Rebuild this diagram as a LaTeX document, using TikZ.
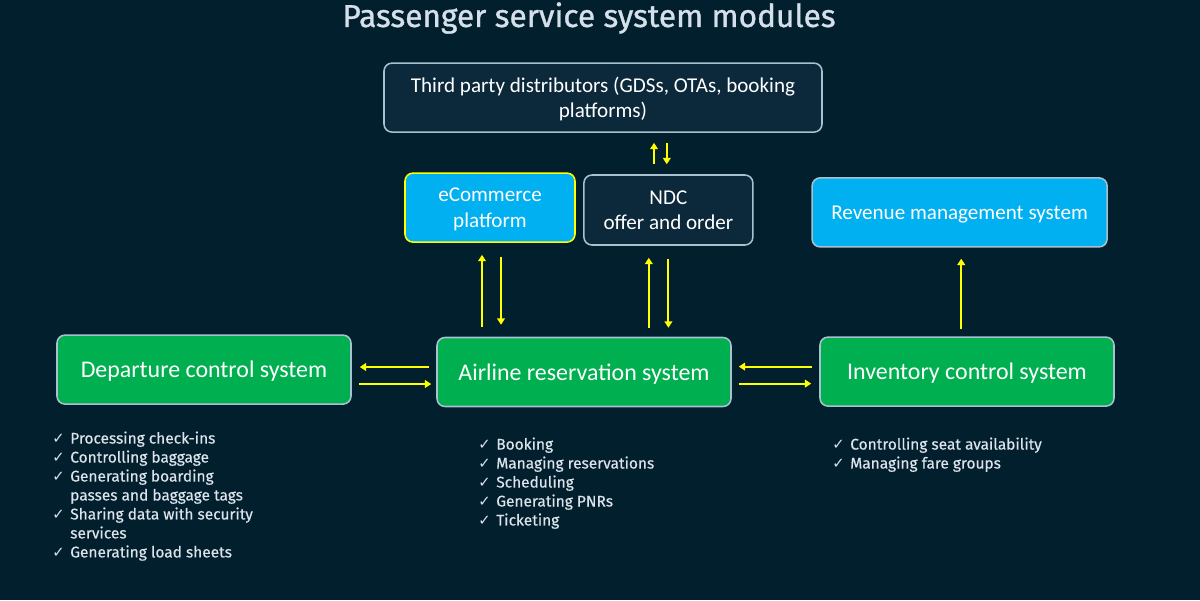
\documentclass[tikz,border=0pt]{standalone}
\usepackage{fontspec}
\setmainfont{Carlito}
\newfontfamily\dinfont[UprightFeatures={FakeBold=0.4}]{Fira Sans}
\newfontfamily\headfont[UprightFeatures={FakeBold=1}]{Fira Sans}
\newfontfamily\tickfont{DejaVu Sans}
\usepackage{tikz}
\usepackage{xcolor}
\usetikzlibrary{arrows.meta}

\definecolor{bgnavy}{HTML}{021F2E}
\definecolor{boxnavy}{HTML}{0C293B}
\definecolor{edgegrey}{HTML}{A9C0CF}
\definecolor{skyblue}{HTML}{00B0F0}
\definecolor{boxgreen}{HTML}{00B050}
\definecolor{arrowyellow}{HTML}{FFFF00}
\definecolor{titlegrey}{HTML}{D5E0EA}
\definecolor{listgrey}{HTML}{DCE3EA}

\newcommand{\chk}{{\tickfont\fontsize{10.5}{10.5}\selectfont\char"2713}}

\begin{document}
\begin{tikzpicture}[
  box/.style={rounded corners=0.2cm, draw=edgegrey, line width=1.1pt, minimum height=1.725cm, align=center, text=white, text depth=0pt, font=\fontsize{15}{18}\selectfont},
  darkbox/.style={box, fill=boxnavy},
  bluebox/.style={box, fill=skyblue},
  greenbox/.style={box, fill=boxgreen, minimum width=7.35cm, font=\fontsize{17}{20}\selectfont},
  flow/.style={draw=arrowyellow, line width=1.4pt, -{Triangle[width=5.5pt,length=4.5pt]}},
  ticks/.style={anchor=north west, inner sep=0pt, text=listgrey, font=\dinfont\fontsize{11}{13.5}\selectfont}
]
\useasboundingbox (0,0) rectangle (30,-15);
\fill[bgnavy] (0,0) rectangle (30,-15);
\node[text=titlegrey, font=\headfont\fontsize{22.5}{26}\selectfont] (title) at (14.725,-0.45) {Passenger service system modules};

% boxes
\node[darkbox, minimum width=10.95cm] (third) at (15.075,-2.44) {Third party distributors (GDSs, OTAs, booking\\platforms)};
\node[bluebox, draw=arrowyellow, minimum width=4.25cm] (ecom) at (12.25,-5.19) {eCommerce\\platform};
\node[darkbox, minimum width=4.225cm, minimum height=1.75cm] (ndc) at (16.71,-5.25) {NDC\\offer and order};
\node[bluebox, minimum width=7.375cm] (rms) at (23.99,-5.31) {Revenue management system};
\node[greenbox] (dcs) at (5.1,-9.24) {Departure control system};
\node[greenbox] (ars) at (14.6,-9.3) {Airline reservation system};
\node[greenbox] (ics) at (24.175,-9.29) {Inventory control system};

% arrows
\draw[flow] ([xshift=-0.36cm,yshift=0.25cm]ndc.north) -- ([xshift=-0.36cm,yshift=-0.25cm]ndc.north |- third.south);
\draw[flow] ([xshift=-0.04cm,yshift=-0.25cm]ndc.north |- third.south) -- ([xshift=-0.04cm,yshift=0.25cm]ndc.north);
\draw[flow] ([xshift=-0.2cm,yshift=0.25cm]ecom.south |- ars.north) -- ([xshift=-0.2cm,yshift=-0.3cm]ecom.south);
\draw[flow] ([xshift=0.275cm,yshift=-0.35cm]ecom.south) -- ([xshift=0.275cm,yshift=0.3cm]ecom.south |- ars.north);
\draw[flow] ([xshift=-0.49cm,yshift=0.225cm]ndc.south |- ars.north) -- ([xshift=-0.49cm,yshift=-0.3cm]ndc.south);
\draw[flow] ([yshift=-0.325cm]ndc.south) -- ([yshift=0.225cm]ndc.south |- ars.north);
\draw[flow] ([xshift=0.04cm,yshift=0.175cm]rms.south |- ics.north) -- ([xshift=0.04cm,yshift=-0.275cm]rms.south);
\draw[flow] ([xshift=-0.175cm,yshift=0.125cm]ars.west) -- ([xshift=0.2cm,yshift=0.125cm]ars.west -| dcs.east);
\draw[flow] ([xshift=0.175cm,yshift=-0.3cm]ars.west -| dcs.east) -- ([xshift=-0.125cm,yshift=-0.3cm]ars.west);
\draw[flow] ([xshift=-0.175cm,yshift=0.125cm]ics.west) -- ([xshift=0.175cm,yshift=0.125cm]ics.west -| ars.east);
\draw[flow] ([xshift=0.175cm,yshift=-0.3cm]ics.west -| ars.east) -- ([xshift=-0.2cm,yshift=-0.3cm]ics.west);

% lists
\node[ticks] (dcslist) at (1.3,-10.75) {\begin{tabular}{@{}l@{\hspace{4pt}}l@{}}
\chk & Processing check-ins\\
\chk & Controlling baggage\\
\chk & Generating boarding\\
 & passes and baggage tags\\
\chk & Sharing data with security\\
 & services\\
\chk & Generating load sheets
\end{tabular}};
\node[ticks] (arslist) at (11.95,-10.9) {\begin{tabular}{@{}l@{\hspace{4pt}}l@{}}
\chk & Booking\\
\chk & Managing reservations\\
\chk & Scheduling\\
\chk & Generating PNRs\\
\chk & Ticketing
\end{tabular}};
\node[ticks] (icslist) at (20.8,-10.9) {\begin{tabular}{@{}l@{\hspace{4pt}}l@{}}
\chk & Controlling seat availability\\
\chk & Managing fare groups
\end{tabular}};
\end{tikzpicture}
\end{document}
